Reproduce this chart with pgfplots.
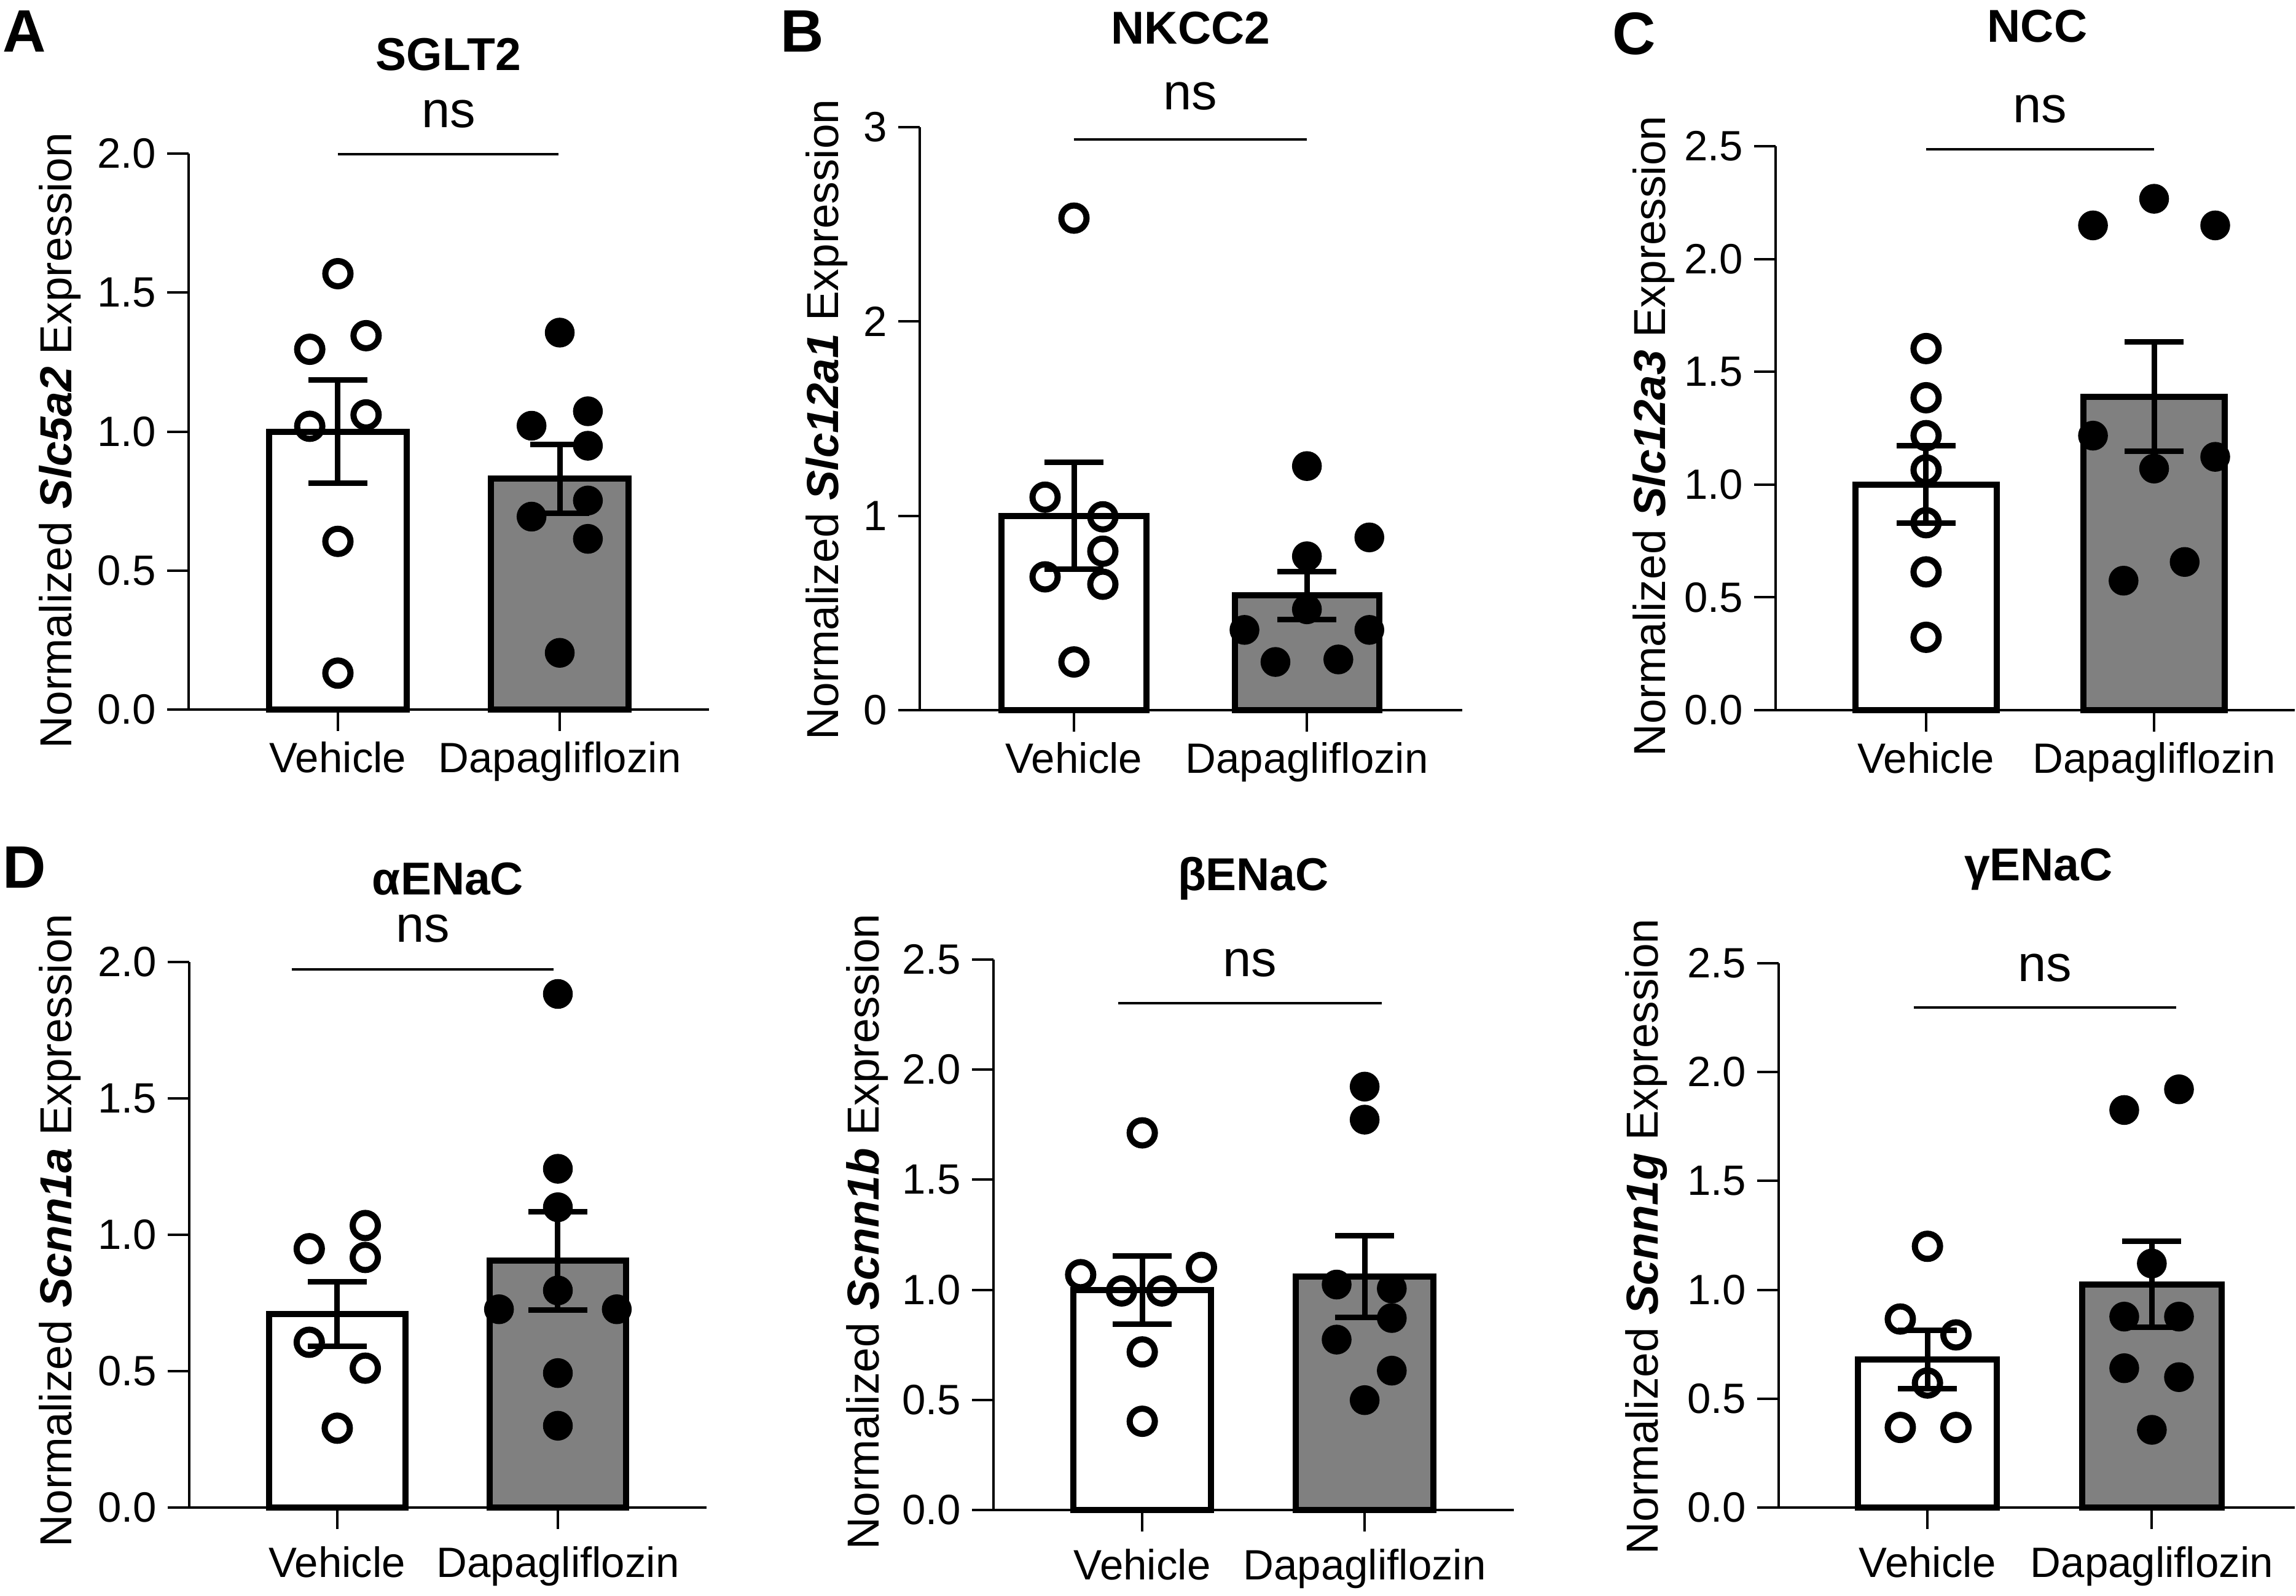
\documentclass[border=0pt]{standalone}
\usepackage{fontspec}
\setmainfont{Liberation Sans}
\usepackage{pgfplots}
\pgfplotsset{compat=1.18}
\newcommand\tickfont{\fontsize{13.8}{16}\selectfont}
\newcommand\labelfont{\fontsize{14.6}{17}\selectfont}
\newcommand\titlefont{\fontsize{15}{17}\selectfont\bfseries}
\newcommand\nsfont{\fontsize{16.6}{20}\selectfont}
\newcommand\letterfont{\fontsize{19.5}{22}\selectfont\bfseries}
\pgfplotsset{
  panel/.style={
    scale only axis, anchor=south west,
    axis x line*=bottom, axis y line*=left,
    axis line style={line width=0.8pt},
    every tick/.style={line width=0.8pt, black},
    tick align=outside, major tick length=7pt,
    xtick={0,1}, xticklabels={Vehicle,Dapagliflozin},
    ymin=0, clip=false,
    ticklabel style={font=\tickfont},
    /pgf/number format/assume math mode=true,
    yticklabel style={/pgf/number format/.cd, fixed, fixed zerofill, precision=1},
  },
  lowrow/.style={xticklabel style={yshift=-2.2pt}},
  vbar/.style={ybar, bar shift=0pt, bar width=0.62, fill=white, draw=black, line width=2pt},
  dbar/.style={ybar, bar shift=0pt, bar width=0.62, fill=black!50, draw=black, line width=2pt},
  ebar/.style={draw=none, mark=none, error bars/.cd, y dir=both, y explicit,
    error bar style={line width=1.8pt, black}, error mark=|,
    error mark options={mark size=9.6pt, line width=1.8pt, black}},
  opendots/.style={only marks, line width=2pt, mark=o, mark size=4.1pt, mark options={line width=2pt, draw=black, fill=none}},
  filldots/.style={only marks, line width=1pt, mark=*, mark size=4.6pt, mark options={line width=0.5pt, draw=black, fill=black}},
}
\begin{document}
\begin{tikzpicture}
\useasboundingbox (0pt,0pt) rectangle (747.4pt,-519.6pt);

% ---------- A: SGLT2
\begin{axis}[panel, at={(61.4pt,-231pt)}, width=169.4pt, height=181pt,
  xmin=-0.673, xmax=1.673, ymax=2, ytick={0,0.5,1,1.5,2}]
\addplot[vbar] coordinates {(0,1.0)};
\addplot[dbar] coordinates {(1,0.83)};
\addplot[ebar] coordinates {(0,1.0) +- (0,0.185) (1,0.83) +- (0,0.124)};
\addplot[opendots] coordinates {(0,1.568) (-0.127,1.296) (0.127,1.345) (-0.127,1.019) (0.127,1.060) (0,0.605) (0,0.131)};
\addplot[filldots] coordinates {(1,1.356) (0.873,1.021) (1.127,1.073) (1.127,0.949) (1.127,0.752) (0.873,0.694) (1.127,0.614) (1,0.204)};
\end{axis}

% ---------- B: NKCC2
\begin{axis}[panel, at={(299.4pt,-231.2pt)}, width=176.6pt, height=189.8pt,
  xmin=-0.662, xmax=1.667, ymax=3, ytick={0,1,2,3},
  yticklabel style={/pgf/number format/.cd, fixed, precision=0}]
\addplot[vbar] coordinates {(0,1.0)};
\addplot[dbar] coordinates {(1,0.59)};
\addplot[ebar] coordinates {(0,1.0) +- (0,0.275) (1,0.59) +- (0,0.123)};
\addplot[opendots] coordinates {(0,2.532) (-0.124,1.096) (0.124,0.995) (0.124,0.818) (-0.124,0.686) (0.124,0.648) (0,0.248)};
\addplot[filldots] coordinates {(1,1.256) (1.268,0.889) (1,0.792) (1,0.519) (0.732,0.413) (1.268,0.413) (0.865,0.248) (1.135,0.261)};
\end{axis}

% ---------- C: NCC
\begin{axis}[panel, at={(578pt,-231.2pt)}, width=169pt, height=183.6pt,
  xmin=-0.660, xmax=1.617, ymax=2.5, ytick={0,0.5,1,1.5,2,2.5}]
\addplot[vbar] coordinates {(0,1.0)};
\addplot[dbar] coordinates {(1,1.39)};
\addplot[ebar] coordinates {(0,1.0) +- (0,0.172) (1,1.39) +- (0,0.243)};
\addplot[opendots] coordinates {(0,1.603) (0,1.385) (0,1.217) (0,1.065) (0,0.831) (0,0.613) (0,0.323)};
\addplot[filldots] coordinates {(0.732,2.149) (1,2.267) (1.268,2.149) (0.732,1.217) (1.268,1.123) (1,1.071) (1.134,0.657) (0.866,0.574)};
\end{axis}

% ---------- D: alpha ENaC
\begin{axis}[panel, lowrow, at={(61.6pt,-490.8pt)}, width=168.4pt, height=177.6pt,
  xmin=-0.671, xmax=1.674, ymax=2, ytick={0,0.5,1,1.5,2}]
\addplot[vbar] coordinates {(0,0.71)};
\addplot[dbar] coordinates {(1,0.905)};
\addplot[ebar] coordinates {(0,0.71) +- (0,0.118) (1,0.905) +- (0,0.18)};
\addplot[opendots] coordinates {(-0.127,0.949) (0.127,1.034) (0.127,0.917) (-0.127,0.606) (0.127,0.511) (0,0.291)};
\addplot[filldots] coordinates {(1,1.883) (1,1.242) (1,1.101) (1,0.796) (0.733,0.727) (1.267,0.727) (1,0.493) (1,0.300)};
\end{axis}

% ---------- E: beta ENaC
\begin{axis}[panel, lowrow, at={(323.4pt,-491.6pt)}, width=169.4pt, height=179.2pt,
  xmin=-0.669, xmax=1.671, ymax=2.5, ytick={0,0.5,1,1.5,2,2.5}]
\addplot[vbar] coordinates {(0,1.0)};
\addplot[dbar] coordinates {(1,1.06)};
\addplot[ebar] coordinates {(0,1.0) +- (0,0.155) (1,1.06) +- (0,0.185)};
\addplot[opendots] coordinates {(0,1.713) (-0.277,1.069) (0.266,1.102) (-0.093,0.995) (0.088,0.995) (0,0.718) (0,0.403)};
\addplot[filldots] coordinates {(1,1.923) (1,1.773) (0.874,1.024) (1.122,1.006) (1.122,0.872) (0.874,0.774) (1.122,0.633) (1,0.499)};
\end{axis}

% ---------- F: gamma ENaC
\begin{axis}[panel, lowrow, at={(579pt,-490.8pt)}, width=168pt, height=177.2pt,
  xmin=-0.663, xmax=1.637, ymax=2.5, ytick={0,0.5,1,1.5,2,2.5}]
\addplot[vbar] coordinates {(0,0.68)};
\addplot[dbar] coordinates {(1,1.025)};
\addplot[ebar] coordinates {(0,0.68) +- (0,0.133) (1,1.025) +- (0,0.197)};
\addplot[opendots] coordinates {(0,1.200) (-0.121,0.866) (0.127,0.793) (0,0.572) (-0.121,0.368) (0.127,0.368)};
\addplot[filldots] coordinates {(1.121,1.921) (0.877,1.826) (1,1.121) (0.877,0.877) (1.121,0.877) (0.877,0.640) (1.121,0.599) (1,0.357)};
\end{axis}

% ---------- annotations (pixel grid of the reference)
\begin{scope}[x=0.2pt, y=-0.2pt]
  % panel letters
  \node[anchor=base west, inner sep=0pt, font=\letterfont] at (4,84) {A};
  \node[anchor=base west, inner sep=0pt, font=\letterfont] at (1270,84) {B};
  \node[anchor=base west, inner sep=0pt, font=\letterfont] at (2624,88) {C};
  \node[anchor=base west, inner sep=0pt, font=\letterfont] at (4,1446) {D};
  % titles
  \node[anchor=base, inner sep=0pt, font=\titlefont] at (730,114) {SGLT2};
  \node[anchor=base, inner sep=0pt, font=\titlefont] at (1938,71) {NKCC2};
  \node[anchor=base, inner sep=0pt, font=\titlefont] at (3316,68) {NCC};
  \node[anchor=base, inner sep=0pt, font=\titlefont] at (729,1457) {αENaC};
  \node[anchor=base, inner sep=0pt, font=\titlefont] at (2040,1450) {βENaC};
  \node[anchor=base, inner sep=0pt, font=\titlefont] at (3318,1434) {γENaC};
  % significance
  \draw[line width=0.8pt] (550,251) -- (909,251);
  \node[anchor=base, inner sep=0pt, font=\nsfont] at (730,207) {ns};
  \draw[line width=0.8pt] (1748,227) -- (2127,227);
  \node[anchor=base, inner sep=0pt, font=\nsfont] at (1937,178) {ns};
  \draw[line width=0.8pt] (3135,243) -- (3506,243);
  \node[anchor=base, inner sep=0pt, font=\nsfont] at (3320,199) {ns};
  \draw[line width=0.8pt] (475,1578) -- (901,1578);
  \node[anchor=base, inner sep=0pt, font=\nsfont] at (688,1534) {ns};
  \draw[line width=0.8pt] (1820,1633) -- (2249,1633);
  \node[anchor=base, inner sep=0pt, font=\nsfont] at (2034,1590) {ns};
  \draw[line width=0.8pt] (3115,1640) -- (3542,1640);
  \node[anchor=base, inner sep=0pt, font=\nsfont] at (3328,1598) {ns};
  % y labels
  \node[rotate=90, inner sep=0pt, font=\labelfont] at (98,717) {Normalized \textbf{\textit{Slc5a2}} Expression};
  \node[rotate=90, inner sep=0pt, font=\labelfont] at (1346,683) {Normalized \textbf{\textit{Slc12a1}} Expression};
  \node[rotate=90, inner sep=0pt, font=\labelfont] at (2692,710) {Normalized \textbf{\textit{Slc12a3}} Expression};
  \node[rotate=90, inner sep=0pt, font=\labelfont] at (98,2003) {Normalized \textbf{\textit{Scnn1a}} Expression};
  \node[rotate=90, inner sep=0pt, font=\labelfont] at (1412,2005) {Normalized \textbf{\textit{Scnn1b}} Expression};
  \node[rotate=90, inner sep=0pt, font=\labelfont] at (2680,2013) {Normalized \textbf{\textit{Scnn1g}} Expression};
\end{scope}
\end{tikzpicture}
\end{document}
